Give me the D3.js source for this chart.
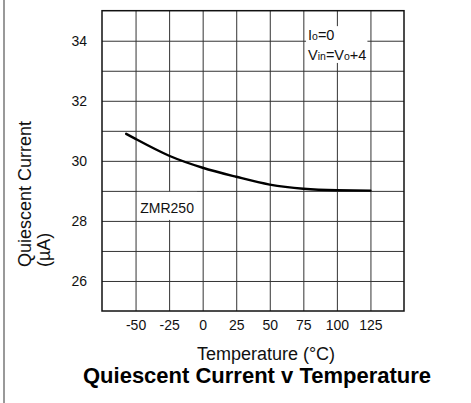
<!DOCTYPE html>
<html>
<head>
<meta charset="utf-8">
<script src="https://cdn.jsdelivr.net/npm/d3@7"></script>
<style>
  body { margin: 0; background: #fff; }
  svg { display: block; font-family: 'Liberation Sans', Arial, sans-serif; }
</style>
</head>
<body>
<svg width="471" height="403"></svg>
<script>
// values
const temperatures = [-57, -50, -25, 0, 25, 50, 75, 100, 125]
const currents = [30.9, 30.73, 30.17, 29.77, 29.47, 29.21, 29.07, 29.02, 29.01]
const xTicks = [-50, -25, 0, 25, 50, 75, 100, 125]
const yGrid = [26, 27, 28, 29, 30, 31, 32, 33, 34]
const yTicks = [26, 28, 30, 32, 34]
const xDomain = [-75, 150]
const yDomain = [25, 35]

const seriesName = 'ZMR250'
const conditions = [
  [['I', ''], ['o', 'sub'], ['=0', '']],
  [['V', ''], ['in', 'sub'], ['=V', ''], ['o', 'sub'], ['+4', '']],
]
const xTitle = 'Temperature (°C)'
const yTitle = ['Quiescent Current', '(µA)']
const title = 'Quiescent Current v Temperature'

const zip = (a, b) => a.map((v, i) => [v, b[i]])
const plain = d => String(d)

function chart(config) {
  const svg = d3.select(config.container)
  const {left, right, top, bottom} = config.plot

  const x = d3.scaleLinear().domain(xDomain).range([left, right])
  const y = d3.scaleLinear().domain(yDomain).range([bottom, top])

  // page border on the left
  svg.append('line')
    .attr('x1', 4).attr('x2', 4)
    .attr('y1', 0).attr('y2', config.height)
    .attr('stroke', '#777')
    .attr('stroke-width', 1.5)

  // grid
  svg.append('g')
    .attr('transform', `translate(0,${bottom})`)
    .call(d3.axisBottom(x).tickValues(xTicks).tickSize(-(bottom - top)).tickFormat(''))
    .call(g => g.select('.domain').remove())
    .selectAll('line').attr('stroke', '#333')

  svg.append('g')
    .attr('transform', `translate(${left},0)`)
    .call(d3.axisLeft(y).tickValues(yGrid).tickSize(-(right - left)).tickFormat(''))
    .call(g => g.select('.domain').remove())
    .selectAll('line').attr('stroke', '#333')

  // tick labels
  svg.append('g')
    .attr('transform', `translate(0,${bottom + 6})`)
    .call(d3.axisBottom(x).tickValues(xTicks).tickSize(0).tickFormat(plain))
    .call(g => g.select('.domain').remove())
    .selectAll('text')
    .attr('font-size', 14)
    .attr('font-family', 'Liberation Sans, Arial, sans-serif')
    .attr('fill', '#111')

  svg.append('g')
    .attr('transform', `translate(${left - 12},0)`)
    .call(d3.axisLeft(y).tickValues(yTicks).tickSize(0).tickFormat(plain))
    .call(g => g.select('.domain').remove())
    .selectAll('text')
    .attr('font-size', 14)
    .attr('font-family', 'Liberation Sans, Arial, sans-serif')
    .attr('fill', '#111')

  // series label with a white patch under it
  const labelGroup = svg.append('g')
  const label = labelGroup.append('text')
    .attr('x', x(-46.5))
    .attr('y', y(28.27))
    .attr('font-size', 14)
    .attr('fill', '#111')
    .text(seriesName)
  const lb = label.node().getBBox()
  labelGroup.insert('rect', ':first-child')
    .attr('x', lb.x - 3)
    .attr('y', y(29) + 1)
    .attr('width', lb.width + 6)
    .attr('height', y(28) - y(29) - 2)
    .attr('fill', '#fff')

  // test conditions box
  const cond = svg.append('g')
  conditions.forEach((row, i) => {
    const t = cond.append('text')
      .attr('x', x(78.5))
      .attr('y', y(i === 0 ? 34.02 : 33.36))
      .attr('font-size', 14.5)
      .attr('fill', '#111')
    row.forEach(([s, kind]) => {
      t.append('tspan')
        .attr('font-size', kind === 'sub' ? 10.5 : 14.5)
        .text(s)
    })
  })
  const cb = cond.node().getBBox()
  cond.insert('rect', ':first-child')
    .attr('x', cb.x - 2)
    .attr('y', cb.y - 1)
    .attr('width', cb.width + 3)
    .attr('height', cb.height + 1)
    .attr('fill', '#fff')

  // frame
  svg.append('rect')
    .attr('x', left).attr('y', top)
    .attr('width', right - left).attr('height', bottom - top)
    .attr('fill', 'none')
    .attr('stroke', '#111')
    .attr('stroke-width', 1.5)

  // curve
  const line = d3.line()
    .x(d => x(d[0]))
    .y(d => y(d[1]))
    .curve(d3.curveMonotoneX)

  svg.append('path')
    .datum(zip(temperatures, currents))
    .attr('fill', 'none')
    .attr('stroke', '#000')
    .attr('stroke-width', 2.4)
    .attr('stroke-linecap', 'round')
    .attr('d', line)

  // titles
  svg.append('text')
    .attr('x', 266).attr('y', 360)
    .attr('text-anchor', 'middle')
    .attr('font-size', 18)
    .attr('fill', '#111')
    .text(xTitle)

  svg.append('text')
    .attr('x', 257).attr('y', 383)
    .attr('text-anchor', 'middle')
    .attr('font-size', 22)
    .attr('font-weight', 'bold')
    .attr('fill', '#000')
    .text(title)

  yTitle.forEach((s, i) => {
    svg.append('text')
      .attr('transform', `translate(${31 + i * 19},267) rotate(-90)`)
      .attr('font-size', 18)
      .attr('fill', '#111')
      .text(s)
  })
}

chart({
  container: document.querySelector('svg'),
  width: 471,
  height: 403,
  plot: {left: 102, right: 404, top: 10.7, bottom: 311},
})
</script>
</body>
</html>
